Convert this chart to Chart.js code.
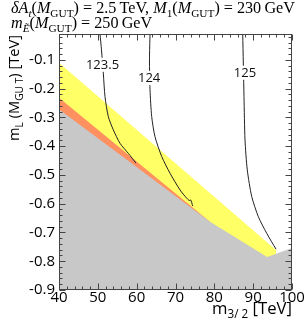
<!DOCTYPE html>
<html><head><meta charset="utf-8">
<script src="https://cdn.jsdelivr.net/npm/chart.js@4"></script>
<style>html,body{margin:0;padding:0;background:#fff}#c{display:block}</style>
</head><body><canvas id="c" width="306" height="330"></canvas>
<script>
// ---- data ----
const X_TICKS = [40, 50, 60, 70, 80, 90, 100];
const Y_TICKS = [-0.9, -0.8, -0.7, -0.6, -0.5, -0.4, -0.3, -0.2, -0.1];
const Y_TICK_LABELS = ['-0.9','-0.8','-0.7','-0.6','-0.5','-0.4','-0.3','-0.2','-0.1'];
const X_MINOR_STEP = 2, Y_MINOR_STEP = 0.02;

const yellowTop = [{x:40,y:-0.110},{x:95.9,y:-0.761}];
const orangeTop = [{x:40,y:-0.232},{x:78.9,y:-0.663}];
const grayTop   = [{x:40,y:-0.272},{x:78.9,y:-0.663},{x:93.6,y:-0.785},{x:100,y:-0.754}];

const c1235 = [{x:50.56,y:-0.01},{x:50.94,y:-0.065},{x:51.41,y:-0.146},{x:51.85,y:-0.228},{x:52.70,y:-0.297},{x:53.98,y:-0.343},{x:55.71,y:-0.390},{x:57.85,y:-0.425},{x:59.83,y:-0.459}];
const c124  = [{x:63.44,y:-0.01},{x:63.30,y:-0.10},{x:63.44,y:-0.204},{x:63.87,y:-0.297},{x:64.72,y:-0.367},{x:66.45,y:-0.436},{x:68.59,y:-0.494},{x:71.16,y:-0.552},{x:72.89,y:-0.581},{x:73.56,y:-0.589},{x:73.92,y:-0.587},{x:74.43,y:-0.608}];
const c125  = [{x:87.31,y:-0.01},{x:87.64,y:-0.228},{x:87.90,y:-0.378},{x:88.49,y:-0.483},{x:89.63,y:-0.575},{x:91.33,y:-0.645},{x:93.49,y:-0.703},{x:95.88,y:-0.758}];

const CONTOUR_LABELS = ['123.5', '124', '125'];
const CONTOUR_LABEL_X = [51.2, 63.2, 87.9];
const CONTOUR_LABEL_Y = [-0.117, -0.163, -0.145];

// ---- helpers ----
function fontFor(st, size, fam){
  const sub = st[0]==='s';
  const it = st[st.length-1]==='i';
  return (it?'italic ':'') + (sub?size*0.7:size).toFixed(2) + 'px ' + fam;
}
function richWidth(ctx, segs, size, fam){
  let w=0; for (const [t,st] of segs){ ctx.font=fontFor(st,size,fam); w+=ctx.measureText(t).width; } return w;
}
function drawRich(ctx, segs, x, y, size, fam){
  let cx=x;
  for (const [t,st] of segs){
    ctx.font=fontFor(st,size,fam);
    const dy = st[0]==='s' ? size*0.25 : 0;
    ctx.fillText(t,cx,y+dy);
    cx+=ctx.measureText(t).width;
  }
}
const TITLE1 = [['δA','i'],['t','si'],['(','r'],['M','i'],['GUT','sr'],[') = 2.5\u2009TeV, ','r'],['M','i'],['1','sr'],['(','r'],['M','i'],['GUT','sr'],[') = 230\u2009GeV','r']];
const TITLE2 = [['m','i'],['Ẽ','si'],['(','r'],['M','i'],['GUT','sr'],[') = 250\u2009GeV','r']];
const YTITLE = [['m','r'],['L','sr'],[' (','r'],['M','r'],['GU T','sr'],[') [TeV]','r']];
const XTITLE = [['m','r'],['3/ 2','sr'],[' [TeV]','r']];

const decor = {
  id:'decor',
  afterDatasetsDraw(chart){
    const ctx=chart.ctx, xs=chart.scales.x, ys=chart.scales.y;
    ctx.save();
    ctx.font='13px "Open Sans"';
    ctx.textAlign='center'; ctx.textBaseline='middle';
    CONTOUR_LABELS.forEach((t,i)=>{
      const px=xs.getPixelForValue(CONTOUR_LABEL_X[i]), py=ys.getPixelForValue(CONTOUR_LABEL_Y[i]);
      const w=ctx.measureText(t).width;
      ctx.fillStyle='#fff'; ctx.fillRect(px-w/2-1,py-7,w+2,14);
      ctx.fillStyle='#111'; ctx.fillText(t,px,py+0.5);
    });
    ctx.restore();
  },
  afterDraw(chart){
    const ctx=chart.ctx, xs=chart.scales.x, ys=chart.scales.y, a=chart.chartArea;
    ctx.save();
    ctx.strokeStyle='#444'; ctx.lineWidth=1;
    ctx.strokeRect(Math.round(a.left)+0.5, Math.round(a.top)+0.5, Math.round(a.right-a.left)-1, Math.round(a.bottom-a.top)-1);
    ctx.beginPath();
    const L=Math.round(a.left)+0.5, R=Math.round(a.right)-0.5, T=Math.round(a.top)+0.5, B=Math.round(a.bottom)-0.5;
    for (let v=X_TICKS[0]; v<=X_TICKS[X_TICKS.length-1]+1e-9; v+=X_MINOR_STEP){
      const major = X_TICKS.some(t=>Math.abs(t-v)<1e-6);
      const len = major?6:3;
      const px=Math.round(xs.getPixelForValue(v))+0.5;
      ctx.moveTo(px,B); ctx.lineTo(px,B-len);
      ctx.moveTo(px,T); ctx.lineTo(px,T+len);
    }
    for (let v=-0.9; v<=ys.max+1e-9; v+=Y_MINOR_STEP){
      const major = Y_TICKS.some(t=>Math.abs(t-v)<1e-6);
      const len = major?6:3;
      const py=Math.round(ys.getPixelForValue(v))+0.5;
      ctx.moveTo(L,py); ctx.lineTo(L+len,py);
      ctx.moveTo(R,py); ctx.lineTo(R-len,py);
    }
    ctx.stroke();

    // titles
    ctx.fillStyle='#000'; ctx.textBaseline='alphabetic'; ctx.textAlign='left';
    const serif='"Liberation Serif"';
    let s=16; s = s*284/richWidth(ctx,TITLE1,s,serif);
    drawRich(ctx,TITLE1,11,13,s,serif);
    drawRich(ctx,TITLE2,11,28,s,serif);

    const sans='"Open Sans"';
    let ys2=16; ys2 = ys2*106/richWidth(ctx,YTITLE,ys2,sans);
    ctx.save(); ctx.translate(19,88); ctx.rotate(-Math.PI/2);
    const wy=richWidth(ctx,YTITLE,ys2,sans);
    drawRich(ctx,YTITLE,-wy/2,0,ys2,sans);
    ctx.restore();

    let xs2=16; xs2 = xs2*80/richWidth(ctx,XTITLE,xs2,sans);
    const wx=richWidth(ctx,XTITLE,xs2,sans);
    drawRich(ctx,XTITLE,a.right-wx,314,xs2,sans);
    ctx.restore();
  }
};

const fillDs = (data,color,order)=>({data, backgroundColor:color, borderWidth:0, borderColor:color, fill:'start', pointRadius:0, order, tension:0});
const lineDs = (data)=>({data, borderColor:'#222', borderWidth:1, fill:false, pointRadius:0, order:0, tension:0.25});

new Chart(document.getElementById('c'), {
  type:'line',
  data:{datasets:[
    lineDs(c1235), lineDs(c124), lineDs(c125),
    fillDs(grayTop,'#c8c8c8',1),
    fillDs(orangeTop,'#ff9060',2),
    fillDs(yellowTop,'#ffff66',3)
  ]},
  options:{
    responsive:false, animation:false, devicePixelRatio:1,
    layout:{padding:{left:0,right:14,top:34,bottom:0}},
    plugins:{legend:{display:false}, tooltip:{enabled:false}},
    scales:{
      x:{type:'linear', min:40, max:100,
        afterBuildTicks:s=>{s.ticks=X_TICKS.map(v=>({value:v}));},
        afterFit:s=>{s.height=40;},
        grid:{display:false, drawTicks:false}, border:{display:false},
        ticks:{font:{family:'Open Sans',size:15,lineHeight:1}, color:'#000', padding:0, maxRotation:0, autoSkip:false}},
      y:{type:'linear', min:-0.9, max:-0.01,
        afterBuildTicks:s=>{s.ticks=Y_TICKS.map(v=>({value:v}));},
        afterFit:s=>{s.width=59;},
        grid:{display:false, drawTicks:false}, border:{display:false},
        ticks:{font:{family:'Open Sans',size:15}, color:'#000', padding:4, autoSkip:false,
          callback:(v,i)=>Y_TICK_LABELS[i]}}
    }
  },
  plugins:[decor]
});
</script></body></html>
